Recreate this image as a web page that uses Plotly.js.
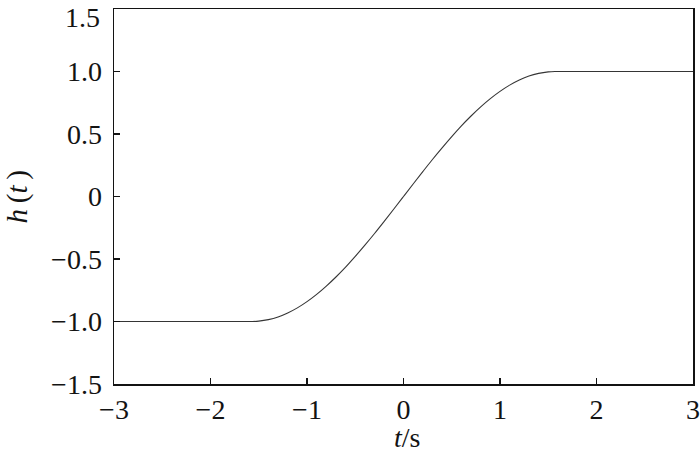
<!DOCTYPE html>
<html>
<head>
<meta charset="utf-8">
<script src="https://cdn.plot.ly/plotly-3.0.1.min.js"></script>
<style>
html,body{margin:0;padding:0;background:#fff;overflow:hidden;}
#chart{width:700px;height:454px;}
#veil{position:absolute;left:0;top:0;width:700px;height:454px;pointer-events:none;background:transparent;}
</style>
</head>
<body>
<div id="chart"></div>
<div id="veil"></div>
<script>
const tValues = [-3.0, -2.5, -2.0, -1.6, -1.57, -1.5, -1.4, -1.3, -1.2, -1.1, -1.0, -0.9, -0.8, -0.7, -0.6, -0.5, -0.4, -0.3, -0.2, -0.1, 0.0, 0.1, 0.2, 0.3, 0.4, 0.5, 0.6, 0.7, 0.8, 0.9, 1.0, 1.1, 1.2, 1.3, 1.4, 1.5, 1.57, 1.6, 2.0, 2.5, 3.0];
const hValues = [-1.0, -1.0, -1.0, -1.0, -1.0, -0.997, -0.985, -0.964, -0.932, -0.891, -0.841, -0.783, -0.717, -0.644, -0.565, -0.479, -0.389, -0.296, -0.199, -0.100, 0.0, 0.100, 0.199, 0.296, 0.389, 0.479, 0.565, 0.644, 0.717, 0.783, 0.841, 0.891, 0.932, 0.964, 0.985, 0.997, 1.0, 1.0, 1.0, 1.0, 1.0];
const xTickVals = [-3, -2, -1, 0, 1, 2, 3];
const xTickText = ['\u22123', '\u22122', '\u22121', '0', '1', '2', '3'];
const yTickVals = [-1.5, -1.0, -0.5, 0, 0.5, 1.0, 1.5];
const yTickText = ['\u22121.5', '\u22121.0', '\u22120.5', '0', '0.5', '1.0', '1.5'];
const xTitle = '<i>t</i>/s';
const yTitle = '<i>h</i>\u2009(<i>t</i>\u2009)';

function mkFont(size) { return {family: 'Liberation Serif', size: size || 28, color: '#111'}; }

// top tick label drawn as annotation so it is not cut at the page edge
const yTickTextShown = yTickText.map((s, i) => i === yTickText.length - 1 ? '' : s);

Plotly.newPlot('chart', [{
  x: tValues, y: hValues, type: 'scatter', mode: 'lines',
  line: {color: '#333', width: 1.1, shape: 'spline'},
  hoverinfo: 'none'
}], {
  width: 700, height: 454,
  margin: {l: 114, r: 7, t: 9, b: 70},
  paper_bgcolor: '#fff', plot_bgcolor: '#fff',
  showlegend: false,
  font: mkFont(),
  xaxis: {
    range: [-3, 3], tickvals: xTickVals, ticktext: xTickText,
    ticks: 'inside', ticklen: 6, tickwidth: 1.5, tickcolor: '#111',
    showline: true, linecolor: '#111', linewidth: 1.5, mirror: true,
    showgrid: false, zeroline: false,
    tickfont: mkFont()
  },
  yaxis: {
    range: [-1.5, 1.5], tickvals: yTickVals, ticktext: yTickTextShown,
    ticks: 'inside', ticklen: 6, tickwidth: 1.5, tickcolor: '#111',
    showline: true, linecolor: '#111', linewidth: 1.5, mirror: true,
    showgrid: false, zeroline: false,
    tickfont: mkFont(), ticklabelstandoff: 5
  },
  annotations: [
    {xref: 'paper', yref: 'y', x: 0, y: yTickVals[yTickVals.length - 1], text: yTickText[yTickText.length - 1],
     xanchor: 'right', yanchor: 'top', xshift: -12, yshift: 9, showarrow: false, font: mkFont()},
    {xref: 'paper', yref: 'paper', x: 0.5, y: 0, text: xTitle, xanchor: 'center', yanchor: 'bottom',
     xshift: 3, yshift: -71, showarrow: false, font: mkFont()},
    {xref: 'paper', yref: 'paper', x: 0, y: 0.5, text: yTitle, xanchor: 'center', yanchor: 'middle',
     xshift: -97, textangle: -90, showarrow: false, font: mkFont(29)}
  ]
}, {staticPlot: true}).then(() => {
  return (document.fonts ? document.fonts.ready : Promise.resolve());
}).then(() => {
  // force a full repaint so the text is rasterised with the loaded font
  document.getElementById('veil').style.background = 'rgba(255,255,255,0.01)';
  document.body.style.background = '#fffffe';
});
</script>
</body>
</html>
